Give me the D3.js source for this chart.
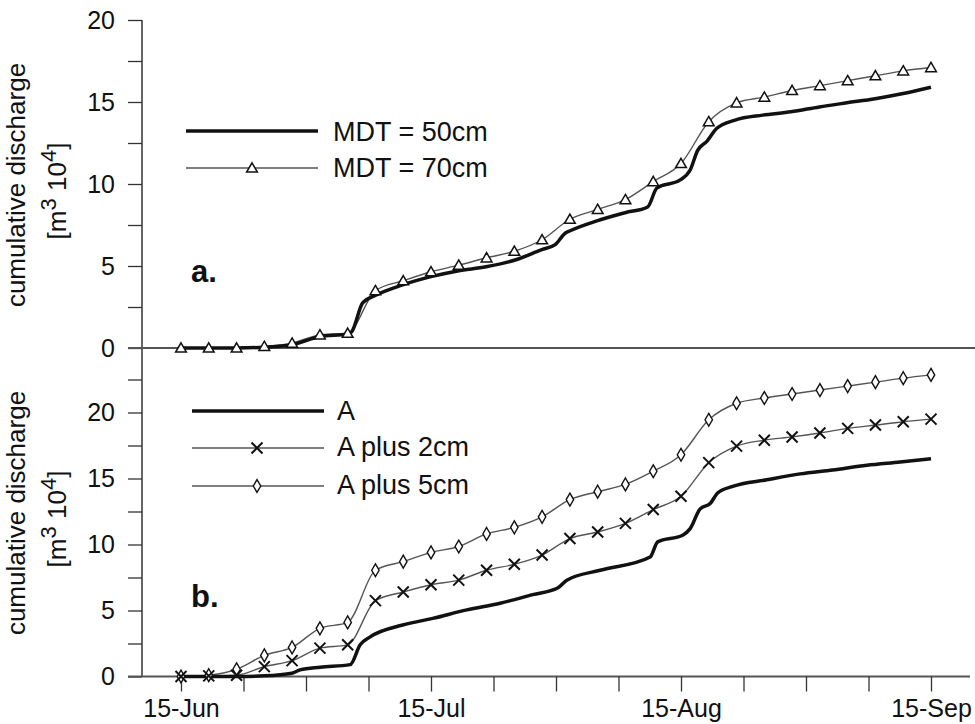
<!DOCTYPE html>
<html><head><meta charset="utf-8">
<script src="https://cdn.jsdelivr.net/npm/d3@7"></script>
<style>
body{margin:0;background:#fff;}
svg{display:block;font-family:"Liberation Sans",Arial,sans-serif;}
</style></head>
<body><svg id="c" width="975" height="724"></svg>
<script>
// ---------- DATA ----------
const monthLabels = ["15-Jun", "15-Jul", "15-Aug", "15-Sep"];
const monthDays = [0, 30, 60, 90];
const minorTickDays = [0, 7.5, 15, 22.5, 30, 37.5, 45, 52.5, 60, 67.5, 75, 82.5, 90];

// days of the marked points (every ~3.3 days)
const markerDays = [0, 3.33, 6.67, 10, 13.33, 16.67, 20, 23.33, 26.67, 30, 33.33, 36.67, 40, 43.33,
  46.67, 50, 53.33, 56.67, 60, 63.33, 66.67, 70, 73.33, 76.67, 80, 83.33, 86.67, 90];

// Panel a
const mdt70 = [0, 0, 0, 0.1, 0.3, 0.8, 0.9, 3.5, 4.1, 4.65, 5.05, 5.5, 5.9, 6.6,
  7.85, 8.45, 9.05, 10.15, 11.25, 13.8, 14.95, 15.3, 15.7, 16.0, 16.3, 16.6, 16.9, 17.1];
const mdt50Days = [0, 3.2, 6.6, 10, 13.3, 16.7, 20, 20.5, 21.8, 23.3, 26.6, 30, 33.2, 36.6, 40, 43.3,
  44.9, 46.1, 46.7, 49.9, 53.3, 56, 57.1, 59.9, 61.1, 62, 63.1, 64.3, 66.5, 69.8, 73.2, 76.6, 79.9, 83.3, 86.5, 90];
const mdt50 = [0, 0, 0, 0.05, 0.2, 0.7, 0.85, 1.0, 2.75, 3.2, 3.85, 4.35, 4.7, 4.95, 5.35, 6.0,
  6.3, 7.0, 7.15, 7.75, 8.25, 8.6, 9.75, 10.25, 10.85, 12.05, 12.6, 13.4, 13.9, 14.2, 14.4, 14.7, 14.95, 15.2, 15.5, 15.9];

// Panel b
const aDays = [0, 3.3, 6.6, 10, 13.3, 14.3, 16.7, 20.3, 21.5, 22.7, 26.6, 30.2, 34.3, 38.3, 42.2, 45.2,
  46.3, 50.3, 56.3, 57.2, 60.2, 61.1, 62.3, 63.5, 64.4, 66.2, 70.3, 74.3, 78.2, 82.3, 86.3, 90];
const aBase = [0, 0, 0, 0.05, 0.25, 0.5, 0.7, 0.9, 2.4, 3.0, 3.9, 4.4, 5.05, 5.55, 6.2, 6.7,
  7.3, 8.05, 9.05, 10.2, 10.7, 11.2, 12.7, 13.1, 13.9, 14.4, 14.9, 15.35, 15.65, 16.0, 16.25, 16.5];
const aPlus2 = [0, 0.05, 0.1, 0.75, 1.2, 2.15, 2.4, 5.75, 6.4, 6.95, 7.3, 8.05, 8.5, 9.2,
  10.45, 10.95, 11.6, 12.65, 13.65, 16.2, 17.45, 17.9, 18.15, 18.45, 18.8, 19.05, 19.3, 19.5];
const aPlus5 = [0, 0.1, 0.55, 1.6, 2.2, 3.65, 4.1, 8.05, 8.7, 9.4, 9.85, 10.8, 11.3, 12.1,
  13.4, 14.0, 14.55, 15.55, 16.8, 19.45, 20.7, 21.1, 21.4, 21.7, 22.0, 22.3, 22.6, 22.85];

const yTicksA = [0, 2.5, 5, 7.5, 10, 12.5, 15, 17.5, 20];
const yTicksB = [0, 2.5, 5, 7.5, 10, 12.5, 15, 17.5, 20, 22.5];

// ---------- DRAW ----------
const svg = d3.select("#c");
const AX = 142;
const x = d3.scaleLinear().domain([0, 90]).range([181, 931]);
const yA = d3.scaleLinear().domain([0, 20]).range([348, 20]);
const yB = d3.scaleLinear().domain([0, 25]).range([676.5, 346.5]);

const axisColor = "#333";
const thin = "#555";
const FS = 27;

// y axes
function yAxis(scale, ticks) {
  const g = svg.append("g").attr("transform", `translate(${AX},0)`)
    .call(d3.axisLeft(scale).tickValues(ticks).tickSize(14).tickPadding(12)
      .tickFormat(d => (d % 5 === 0) ? d3.format("d")(d) : ""));
  g.select(".domain").remove();
  g.selectAll(".tick line").attr("stroke", axisColor).attr("stroke-width", 1.3);
  g.selectAll(".tick text").attr("font-size", 25).attr("fill", "#111").attr("dx", -1);
  return g;
}
yAxis(yA, yTicksA);
yAxis(yB, yTicksB);
svg.append("line").attr("x1", AX).attr("x2", AX).attr("y1", yA(20)).attr("y2", yB(0))
  .attr("stroke", axisColor).attr("stroke-width", 1.5);

// horizontal baselines
svg.append("line").attr("x1", 128).attr("x2", 975).attr("y1", yA(0)).attr("y2", yA(0))
  .attr("stroke", "#555").attr("stroke-width", 2.2);
svg.append("line").attr("x1", 128).attr("x2", 970).attr("y1", yB(0)).attr("y2", yB(0))
  .attr("stroke", "#555").attr("stroke-width", 1.8);

// x axis
const gx = svg.append("g").attr("transform", `translate(0,${yB(0)})`)
  .call(d3.axisBottom(x).tickValues(minorTickDays).tickSize(15).tickPadding(8)
    .tickFormat(d => { const i = monthDays.indexOf(d); return i >= 0 ? monthLabels[i] : ""; }));
gx.select(".domain").remove();
gx.selectAll(".tick line").attr("stroke", axisColor).attr("stroke-width", 1.3);
gx.selectAll(".tick text").attr("font-size", 25).attr("fill", "#111");

// y titles
function yTitle(cy) {
  const g = svg.append("g").attr("transform", `translate(0,${cy}) rotate(-90)`);
  g.append("text").attr("x", 0).attr("y", 25).attr("text-anchor", "middle")
    .attr("font-size", 26).attr("fill", "#111").text("cumulative discharge");
  const t = g.append("text").attr("x", -6).attr("y", 66).attr("text-anchor", "middle")
    .attr("font-size", 26).attr("fill", "#111");
  t.append("tspan").text("[m");
  t.append("tspan").attr("font-size", 22).attr("dy", -10).text("3");
  t.append("tspan").attr("dy", 10).text(" 10");
  t.append("tspan").attr("font-size", 22).attr("dy", -10).text("4");
  t.append("tspan").attr("dy", 10).text("]");
}
yTitle(185);
yTitle(513);

// panel labels
svg.append("text").attr("x", 191).attr("y", 282).attr("font-size", 31).attr("font-weight", "bold")
  .attr("fill", "#111").text("a.");
svg.append("text").attr("x", 191).attr("y", 607).attr("font-size", 31).attr("font-weight", "bold")
  .attr("fill", "#111").text("b.");

// line generators
const lineA = d3.line().x(d => x(d[0])).y(d => yA(d[1])).curve(d3.curveMonotoneX);
const lineB = d3.line().x(d => x(d[0])).y(d => yB(d[1])).curve(d3.curveMonotoneX);

// markers
const tri = d3.symbol().type(d3.symbolTriangle).size(50);
const dia = d3.symbol().type(d3.symbolDiamond).size(48);
function drawTri(g, cx, cy) {
  g.append("path").attr("d", tri()).attr("transform", `translate(${cx},${cy + 1})`)
    .attr("fill", "#fff").attr("stroke", "#111").attr("stroke-width", 1.5);
}
function drawDia(g, cx, cy) {
  g.append("path").attr("d", dia()).attr("transform", `translate(${cx},${cy})`)
    .attr("fill", "#fff").attr("stroke", "#111").attr("stroke-width", 1.4);
}
function drawX(g, cx, cy) {
  const s = 5.5;
  g.append("path").attr("d", `M${cx - s},${cy - s}L${cx + s},${cy + s}M${cx - s},${cy + s}L${cx + s},${cy - s}`)
    .attr("stroke", "#111").attr("stroke-width", 2).attr("fill", "none");
}

// Panel a lines
const pA70 = markerDays.map((d, i) => [d, mdt70[i]]);
const pA50 = mdt50Days.map((d, i) => [d, mdt50[i]]);
svg.append("path").attr("d", lineA(pA70)).attr("fill", "none").attr("stroke", thin).attr("stroke-width", 1.4);
svg.append("path").attr("d", lineA(pA50)).attr("fill", "none").attr("stroke", "#111").attr("stroke-width", 3.5);
const mkA = svg.append("g");
pA70.forEach(p => drawTri(mkA, x(p[0]), yA(p[1])));

// Panel b lines
const pB5 = markerDays.map((d, i) => [d, aPlus5[i]]);
const pB2 = markerDays.map((d, i) => [d, aPlus2[i]]);
const pB0 = aDays.map((d, i) => [d, aBase[i]]);
svg.append("path").attr("d", lineB(pB5)).attr("fill", "none").attr("stroke", thin).attr("stroke-width", 1.4);
svg.append("path").attr("d", lineB(pB2)).attr("fill", "none").attr("stroke", thin).attr("stroke-width", 1.4);
svg.append("path").attr("d", lineB(pB0)).attr("fill", "none").attr("stroke", "#111").attr("stroke-width", 3.5);
const mkB = svg.append("g");
pB5.forEach(p => drawDia(mkB, x(p[0]), yB(p[1])));
pB2.forEach(p => drawX(mkB, x(p[0]), yB(p[1])));

// legends
const leg = svg.append("g");
leg.append("line").attr("x1", 186).attr("x2", 318).attr("y1", 131).attr("y2", 131).attr("stroke", "#111").attr("stroke-width", 3.5);
leg.append("line").attr("x1", 186).attr("x2", 318).attr("y1", 168).attr("y2", 168).attr("stroke", thin).attr("stroke-width", 1.4);
drawTri(leg, 252, 168);
leg.append("text").attr("x", 333).attr("y", 141).attr("font-size", FS).attr("fill", "#111").text("MDT = 50cm");
leg.append("text").attr("x", 333).attr("y", 177).attr("font-size", FS).attr("fill", "#111").text("MDT = 70cm");

leg.append("line").attr("x1", 192).attr("x2", 324).attr("y1", 411).attr("y2", 411).attr("stroke", "#111").attr("stroke-width", 3.5);
leg.append("line").attr("x1", 192).attr("x2", 324).attr("y1", 448).attr("y2", 448).attr("stroke", thin).attr("stroke-width", 1.4);
leg.append("line").attr("x1", 192).attr("x2", 324).attr("y1", 486).attr("y2", 486).attr("stroke", thin).attr("stroke-width", 1.4);
drawX(leg, 257, 448);
drawDia(leg, 257, 486);
leg.append("text").attr("x", 337).attr("y", 420).attr("font-size", FS).attr("fill", "#111").text("A");
leg.append("text").attr("x", 337).attr("y", 456).attr("font-size", FS).attr("fill", "#111").text("A plus 2cm");
leg.append("text").attr("x", 337).attr("y", 494).attr("font-size", FS).attr("fill", "#111").text("A plus 5cm");
</script></body></html>
